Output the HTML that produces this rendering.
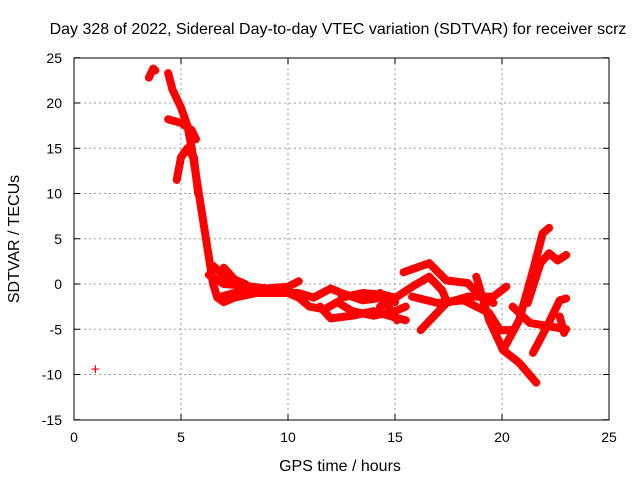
<!DOCTYPE html>
<html><head><meta charset="utf-8"><style>
body{margin:0;background:#fff}
svg{display:block;font-family:"Liberation Sans",sans-serif;font-size:14px}
</style></head><body>
<svg id="c" width="640" height="480">
<text x="338" y="34" text-anchor="middle" font-size="16">Day 328 of 2022, Sidereal Day-to-day VTEC variation (SDTVAR) for receiver scrz</text>
<text x="340" y="471" text-anchor="middle" font-size="16">GPS time / hours</text>
<text transform="translate(19,239) rotate(-90)" text-anchor="middle" font-size="16">SDTVAR / TECUs</text>
<g id="grid"></g><g id="series"></g>
<rect x="74" y="58" width="535" height="362" fill="none" stroke="#000"/>
</svg>
<script>
const xTicks=[0,5,10,15,20,25];
const yTicks=[-15,-10,-5,0,5,10,15,20,25];
const trackX=[
[4.4,4.6,5.0,5.3,5.5,5.7,5.9,6.1,6.3,6.5,6.7,7.0,7.5,8.5,10,10.5,11,11.7,12.3,13,14,15,15.5],
[4.8,5.0,5.3,5.6,5.8],
[4.4,5.0,5.5,5.7],
[6.3,7,8,9,10,10.5],
[6.5,7.2,8],
[7,7.5,8],
[6.7,7.5,9,10.5,11.2,12,12.5,13.5,14.5,15],
[11.5,12,13,14,15,15.5],
[12.5,13.5,14.5,15],
[20.05,20.8,21.45,21.9,22.2],
[21.2,21.8,22.2,22.6,23.0],
[18.8,19.4,20.05,20.8,21.6],
[20.5,21.3,23],
[21.45,22.1,22.7,23],
[22.7,22.9],
[16.2,17.4,18.4,19.6,20.2],
[15.4,16.6,17.4,18.4,19,19.6],
[14.3,15.1,15.8,16.6,17.2,17.4],
[14.3,15.1],
[15.8,17,18.2,19.4,19.9,20.5],
[3.5,3.7,3.8],
[1.0]
];
const trackY=[
[23.3,21.5,19.5,17.5,15,12,9,6,3,0,-1.5,-2,-1.5,-1,-1,-1.5,-2.5,-2.8,-2,-3,-3.5,-3,-2.5],
[11.5,14,15,14,10],
[18.2,17.8,17,16],
[1,0,-0.2,-0.5,-0.3,0.3],
[2,0.5,0],
[1.8,0.5,0],
[-1.5,-1,-1,-1,-1.5,-0.5,-1,-1.8,-1.5,-2],
[-2.5,-3.8,-3.5,-3,-3.7,-4],
[-1.5,-1,-1.2,-1.5],
[-7.3,-4,1.5,5.6,6.2],
[-2.1,2.3,3.4,2.6,3.2],
[0.8,-4,-7.3,-8.7,-10.9],
[-2.5,-4.3,-5],
[-7.6,-4.7,-1.8,-1.6],
[-3.6,-5.4],
[-5.1,-2.1,-1.4,-1.4,-0.3],
[1.3,2.3,0.4,0.1,-1.4,-2.1],
[-2.5,-1.4,-0.3,0.8,-0.7,-1.8],
[-1,-4],
[-1.4,-2.1,-1.8,-3.2,-5.1,-5.1],
[22.8,23.8,23.6],
[-9.4]
];
const NS='http://www.w3.org/2000/svg';
const X=v=>74+v*21.4, Y=v=>284-v*9.05;
const g=document.getElementById('grid'), s=document.getElementById('series');
function mk(tag,at,par){const e=document.createElementNS(NS,tag);for(const k in at)e.setAttribute(k,at[k]);par.appendChild(e);return e;}
xTicks.forEach(t=>{
 if(t>0&&t<25){const l=mk('line',{x1:X(t),x2:X(t),y1:58,y2:420,stroke:'#999','stroke-dasharray':'2,3'},g);
 
 }
 mk('line',{x1:X(t),x2:X(t),y1:420,y2:414,stroke:'#000'},g);
 mk('line',{x1:X(t),x2:X(t),y1:58,y2:64,stroke:'#000'},g);
 const tx=mk('text',{x:X(t),y:442,'text-anchor':'middle'},g);tx.textContent=t;
 
 
});
yTicks.forEach(t=>{
 if(t>-15&&t<25){const l=mk('line',{x1:74,x2:609,y1:Y(t),y2:Y(t),stroke:'#999','stroke-dasharray':'2,3'},g);
 
 }
 mk('line',{x1:74,x2:80,y1:Y(t),y2:Y(t),stroke:'#000'},g);
 mk('line',{x1:603,x2:609,y1:Y(t),y2:Y(t),stroke:'#000'},g);
 const tx=mk('text',{x:62,y:Y(t)+5,'text-anchor':'end'},g);tx.textContent=t;
 
 
});
trackX.forEach((xs,i)=>{
 const ys=trackY[i];
 if(xs.length>1){
  const p=mk('polyline',{points:xs.map((x,j)=>X(x)+','+Y(ys[j])).join(' '),fill:'none',stroke:'#f00','stroke-width':8,'stroke-linejoin':'round','stroke-linecap':'round'},s);
  
  
 }
 xs.forEach((x,j)=>{
  const m=mk('path',{d:`M${X(x)-4},${Y(ys[j])}h8M${X(x)},${Y(ys[j])-4}v8`,stroke:'#f00','stroke-width':1.2},s);
  
  
 });
});
</script>
</body></html>
